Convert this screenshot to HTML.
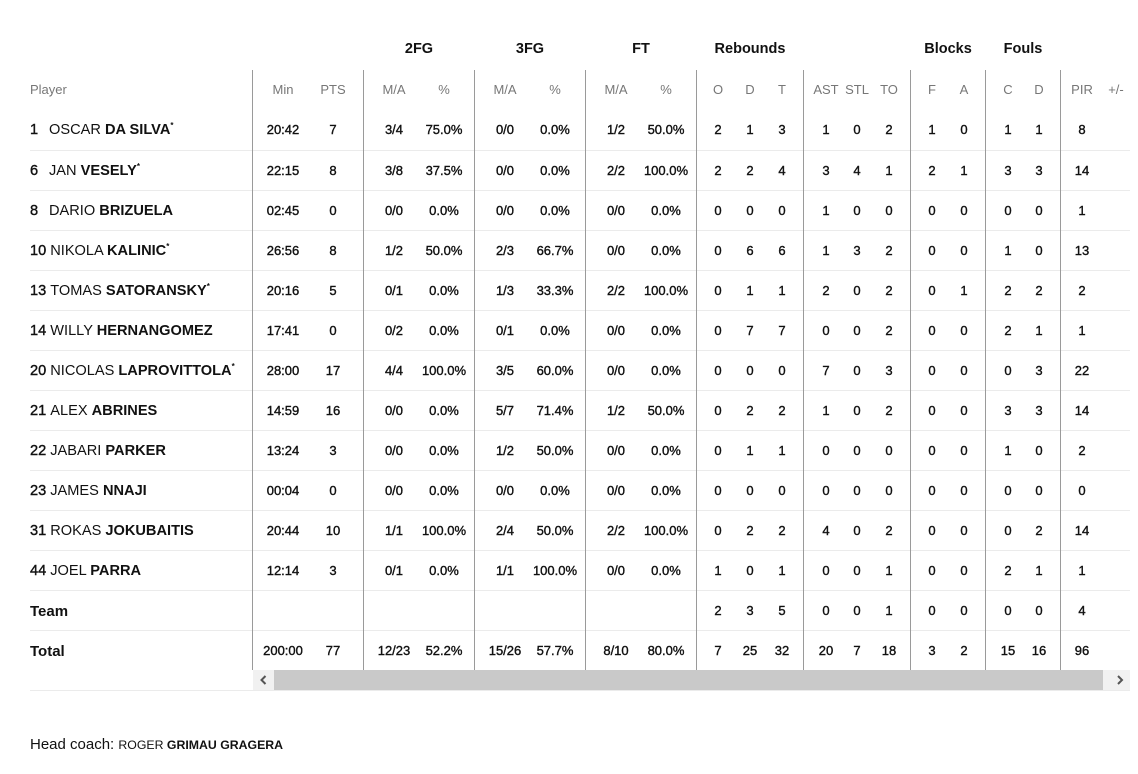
<!DOCTYPE html>
<html><head><meta charset="utf-8">
<style>
*{margin:0;padding:0;box-sizing:border-box}
body{width:1138px;height:774px;background:#fff;position:relative;overflow:hidden;font-family:"Liberation Sans",sans-serif;color:#111}
.r{position:absolute;left:0;width:1138px;height:40px;line-height:40px;font-size:13px}
.r span{position:absolute;width:80px;text-align:center;-webkit-text-stroke:0.38px #111;color:#111}
.r span:nth-of-type(1){left:243px}
.r span:nth-of-type(2){left:293px}
.r span:nth-of-type(3){left:354px}
.r span:nth-of-type(4){left:404px}
.r span:nth-of-type(5){left:465px}
.r span:nth-of-type(6){left:515px}
.r span:nth-of-type(7){left:576px}
.r span:nth-of-type(8){left:626px}
.r span:nth-of-type(9){left:678px}
.r span:nth-of-type(10){left:710px}
.r span:nth-of-type(11){left:742px}
.r span:nth-of-type(12){left:786px}
.r span:nth-of-type(13){left:817px}
.r span:nth-of-type(14){left:849px}
.r span:nth-of-type(15){left:892px}
.r span:nth-of-type(16){left:924px}
.r span:nth-of-type(17){left:968px}
.r span:nth-of-type(18){left:999px}
.r span:nth-of-type(19){left:1042px}
.r span:nth-of-type(20){left:1076px}
.r .n{position:absolute;left:30px;font-size:14.6px;white-space:nowrap;color:#111}
.n i{font-style:normal;display:inline-block;min-width:15px;margin-right:4px;-webkit-text-stroke:0.4px #111}
.n b{font-weight:bold}
.n sup{font-size:8px;vertical-align:6px;line-height:0;font-weight:bold}
.r .tb{font-size:15px;font-weight:bold;top:1px}
.hd{color:#777}
.hd span{-webkit-text-stroke:0;color:#777}
.hd .n{font-size:13px;color:#777}
.g{position:absolute;top:39px;font-size:14.5px;font-weight:bold;width:100px;text-align:center;line-height:20px;color:#111}
.v{position:absolute;top:70px;height:600px;width:1px;background:#9a9a9a}
.h{position:absolute;left:30px;width:1100px;height:1px;background:#ebebeb}
.sb{position:absolute;top:670px;height:20px}
.coach{position:absolute;left:30px;top:735px;font-size:15px;line-height:20px;color:#111}
.coach small{font-size:12.3px}
</style></head><body>

<div class="g" style="left:369px">2FG</div>
<div class="g" style="left:480px">3FG</div>
<div class="g" style="left:591px">FT</div>
<div class="g" style="left:700px">Rebounds</div>
<div class="g" style="left:898px">Blocks</div>
<div class="g" style="left:973px">Fouls</div>

<div class="h" style="top:150px"></div>
<div class="h" style="top:190px"></div>
<div class="h" style="top:230px"></div>
<div class="h" style="top:270px"></div>
<div class="h" style="top:310px"></div>
<div class="h" style="top:350px"></div>
<div class="h" style="top:390px"></div>
<div class="h" style="top:430px"></div>
<div class="h" style="top:470px"></div>
<div class="h" style="top:510px"></div>
<div class="h" style="top:550px"></div>
<div class="h" style="top:590px"></div>
<div class="h" style="top:630px"></div>
<div class="h" style="top:690px"></div>

<div class="v" style="left:252px"></div>
<div class="v" style="left:363px"></div>
<div class="v" style="left:474px"></div>
<div class="v" style="left:585px"></div>
<div class="v" style="left:696px"></div>
<div class="v" style="left:803px"></div>
<div class="v" style="left:910px"></div>
<div class="v" style="left:985px"></div>
<div class="v" style="left:1060px"></div>

<div class="r hd" style="top:70px"><div class="n">Player</div><span>Min</span><span>PTS</span><span>M/A</span><span>%</span><span>M/A</span><span>%</span><span>M/A</span><span>%</span><span>O</span><span>D</span><span>T</span><span>AST</span><span>STL</span><span>TO</span><span>F</span><span>A</span><span>C</span><span>D</span><span>PIR</span><span>+/-</span></div>

<div class="r" style="top:110px"><div class="n"><i>1</i>OSCAR <b>DA SILVA</b><sup>*</sup></div><span>20:42</span><span>7</span><span>3/4</span><span>75.0%</span><span>0/0</span><span>0.0%</span><span>1/2</span><span>50.0%</span><span>2</span><span>1</span><span>3</span><span>1</span><span>0</span><span>2</span><span>1</span><span>0</span><span>1</span><span>1</span><span>8</span><span></span></div>

<div class="r" style="top:151px"><div class="n"><i>6</i>JAN <b>VESELY</b><sup>*</sup></div><span>22:15</span><span>8</span><span>3/8</span><span>37.5%</span><span>0/0</span><span>0.0%</span><span>2/2</span><span>100.0%</span><span>2</span><span>2</span><span>4</span><span>3</span><span>4</span><span>1</span><span>2</span><span>1</span><span>3</span><span>3</span><span>14</span><span></span></div>

<div class="r" style="top:191px"><div class="n"><i>8</i>DARIO <b>BRIZUELA</b></div><span>02:45</span><span>0</span><span>0/0</span><span>0.0%</span><span>0/0</span><span>0.0%</span><span>0/0</span><span>0.0%</span><span>0</span><span>0</span><span>0</span><span>1</span><span>0</span><span>0</span><span>0</span><span>0</span><span>0</span><span>0</span><span>1</span><span></span></div>

<div class="r" style="top:231px"><div class="n"><i>10</i>NIKOLA <b>KALINIC</b><sup>*</sup></div><span>26:56</span><span>8</span><span>1/2</span><span>50.0%</span><span>2/3</span><span>66.7%</span><span>0/0</span><span>0.0%</span><span>0</span><span>6</span><span>6</span><span>1</span><span>3</span><span>2</span><span>0</span><span>0</span><span>1</span><span>0</span><span>13</span><span></span></div>

<div class="r" style="top:271px"><div class="n"><i>13</i>TOMAS <b>SATORANSKY</b><sup>*</sup></div><span>20:16</span><span>5</span><span>0/1</span><span>0.0%</span><span>1/3</span><span>33.3%</span><span>2/2</span><span>100.0%</span><span>0</span><span>1</span><span>1</span><span>2</span><span>0</span><span>2</span><span>0</span><span>1</span><span>2</span><span>2</span><span>2</span><span></span></div>

<div class="r" style="top:311px"><div class="n"><i>14</i>WILLY <b>HERNANGOMEZ</b></div><span>17:41</span><span>0</span><span>0/2</span><span>0.0%</span><span>0/1</span><span>0.0%</span><span>0/0</span><span>0.0%</span><span>0</span><span>7</span><span>7</span><span>0</span><span>0</span><span>2</span><span>0</span><span>0</span><span>2</span><span>1</span><span>1</span><span></span></div>

<div class="r" style="top:351px"><div class="n"><i>20</i>NICOLAS <b>LAPROVITTOLA</b><sup>*</sup></div><span>28:00</span><span>17</span><span>4/4</span><span>100.0%</span><span>3/5</span><span>60.0%</span><span>0/0</span><span>0.0%</span><span>0</span><span>0</span><span>0</span><span>7</span><span>0</span><span>3</span><span>0</span><span>0</span><span>0</span><span>3</span><span>22</span><span></span></div>

<div class="r" style="top:391px"><div class="n"><i>21</i>ALEX <b>ABRINES</b></div><span>14:59</span><span>16</span><span>0/0</span><span>0.0%</span><span>5/7</span><span>71.4%</span><span>1/2</span><span>50.0%</span><span>0</span><span>2</span><span>2</span><span>1</span><span>0</span><span>2</span><span>0</span><span>0</span><span>3</span><span>3</span><span>14</span><span></span></div>

<div class="r" style="top:431px"><div class="n"><i>22</i>JABARI <b>PARKER</b></div><span>13:24</span><span>3</span><span>0/0</span><span>0.0%</span><span>1/2</span><span>50.0%</span><span>0/0</span><span>0.0%</span><span>0</span><span>1</span><span>1</span><span>0</span><span>0</span><span>0</span><span>0</span><span>0</span><span>1</span><span>0</span><span>2</span><span></span></div>

<div class="r" style="top:471px"><div class="n"><i>23</i>JAMES <b>NNAJI</b></div><span>00:04</span><span>0</span><span>0/0</span><span>0.0%</span><span>0/0</span><span>0.0%</span><span>0/0</span><span>0.0%</span><span>0</span><span>0</span><span>0</span><span>0</span><span>0</span><span>0</span><span>0</span><span>0</span><span>0</span><span>0</span><span>0</span><span></span></div>

<div class="r" style="top:511px"><div class="n"><i>31</i>ROKAS <b>JOKUBAITIS</b></div><span>20:44</span><span>10</span><span>1/1</span><span>100.0%</span><span>2/4</span><span>50.0%</span><span>2/2</span><span>100.0%</span><span>0</span><span>2</span><span>2</span><span>4</span><span>0</span><span>2</span><span>0</span><span>0</span><span>0</span><span>2</span><span>14</span><span></span></div>

<div class="r" style="top:551px"><div class="n"><i>44</i>JOEL <b>PARRA</b></div><span>12:14</span><span>3</span><span>0/1</span><span>0.0%</span><span>1/1</span><span>100.0%</span><span>0/0</span><span>0.0%</span><span>1</span><span>0</span><span>1</span><span>0</span><span>0</span><span>1</span><span>0</span><span>0</span><span>2</span><span>1</span><span>1</span><span></span></div>

<div class="r" style="top:591px"><div class="n tb">Team</div><span></span><span></span><span></span><span></span><span></span><span></span><span></span><span></span><span>2</span><span>3</span><span>5</span><span>0</span><span>0</span><span>1</span><span>0</span><span>0</span><span>0</span><span>0</span><span>4</span><span></span></div>

<div class="r" style="top:631px"><div class="n tb">Total</div><span>200:00</span><span>77</span><span>12/23</span><span>52.2%</span><span>15/26</span><span>57.7%</span><span>8/10</span><span>80.0%</span><span>7</span><span>25</span><span>32</span><span>20</span><span>7</span><span>18</span><span>3</span><span>2</span><span>15</span><span>16</span><span>96</span><span></span></div>

<div class="sb" style="left:253px;width:21px;background:#f1f1f1"></div>
<div class="sb" style="left:274px;width:829px;background:#c9c9c9"></div>
<div class="sb" style="left:1103px;width:27px;background:#f1f1f1"></div>
<svg style="position:absolute;left:253px;top:670px" width="877" height="20">
<polyline points="12.5,6 8.5,10 12.5,14" fill="none" stroke="#555" stroke-width="2"/>
<polyline points="865,6 869,10 865,14" fill="none" stroke="#555" stroke-width="2"/>
</svg>

<div class="coach">Head coach: <small>ROGER <b>GRIMAU GRAGERA</b></small></div>
</body></html>
